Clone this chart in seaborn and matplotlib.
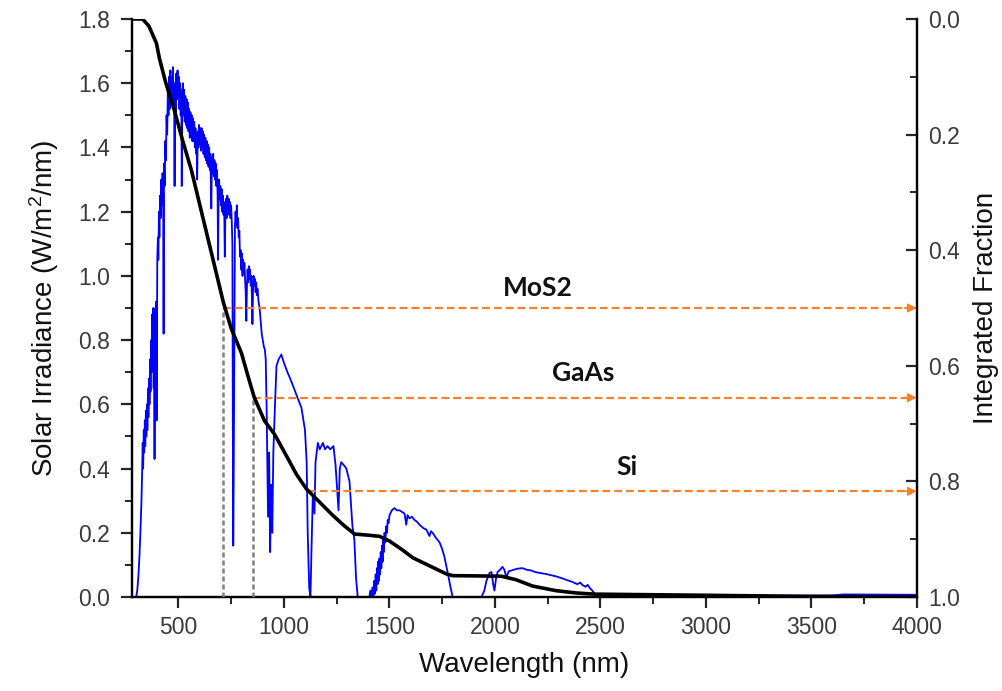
import matplotlib
matplotlib.use("Agg")
import matplotlib.pyplot as plt
import pandas as pd
import seaborn as sns
from matplotlib.ticker import MultipleLocator, FormatStrFormatter

# ---------------- data ----------------
wavelength_nm = [
    300, 305, 310, 315, 320, 325, 328, 331, 333, 336,
    338, 341, 343, 346, 348, 351, 353, 356, 358, 361,
    363, 366, 368, 371, 373, 376, 378, 381, 383, 385,
    387, 389, 391, 393, 395, 397, 400, 403, 405, 408,
    410, 413, 416, 419, 422, 425, 428, 430, 432, 435,
    438, 441, 444, 447, 450, 453, 456, 459, 462, 465,
    468, 471, 474, 477, 480, 482, 484, 487, 490, 493,
    496, 499, 502, 505, 508, 511, 514, 516, 518, 521,
    524, 527, 530, 533, 536, 539, 542, 545, 548, 551,
    554, 557, 560, 563, 566, 569, 572, 575, 578, 581,
    584, 587, 589, 592, 595, 598, 601, 604, 607, 610,
    613, 616, 619, 622, 625, 628, 631, 634, 637, 640,
    643, 646, 649, 652, 656, 659, 662, 665, 668, 671,
    674, 677, 680, 683, 686, 688, 690, 693, 696, 699,
    702, 705, 708, 711, 714, 717, 720, 723, 726, 729,
    732, 735, 738, 741, 744, 747, 750, 753, 756, 758,
    760, 762, 764, 766, 768, 771, 774, 777, 780, 783,
    786, 789, 792, 795, 798, 801, 804, 807, 810, 813,
    816, 819, 822, 825, 828, 831, 834, 837, 840, 843,
    846, 849, 851, 854, 857, 860, 863, 866, 869, 872,
    875, 880, 885, 890, 895, 900, 905, 910, 914, 918,
    925, 930, 935, 940, 945, 950, 958, 965, 975, 988,
    1000, 1017, 1030, 1045, 1065, 1083, 1100, 1108, 1113, 1120,
    1126, 1131, 1137, 1145, 1150, 1161, 1170, 1185, 1195, 1207,
    1220, 1235, 1245, 1259, 1265, 1272, 1285, 1296, 1311, 1318,
    1325, 1334, 1342, 1350, 1405, 1410, 1415, 1420, 1424, 1428,
    1432, 1435, 1438, 1441, 1444, 1447, 1450, 1453, 1456, 1459,
    1462, 1465, 1468, 1471, 1474, 1477, 1481, 1485, 1489, 1492,
    1496, 1501, 1512, 1524, 1535, 1548, 1560, 1572, 1580, 1586,
    1595, 1607, 1619, 1630, 1643, 1660, 1675, 1690, 1697, 1705,
    1720, 1738, 1750, 1761, 1777, 1790, 1800, 1937, 1950, 1960,
    1975, 1984, 1992, 1998, 2006, 2013, 2025, 2036, 2045, 2055,
    2065, 2085, 2105, 2131, 2150, 2170, 2190, 2212, 2240, 2265,
    2292, 2320, 2345, 2368, 2390, 2405, 2416, 2430, 2440, 2450,
    2462, 2473, 2490, 2900, 2920, 3270, 3300, 3600, 3650, 4000,
]
irradiance = [
    0.0, 0.02, 0.06, 0.12, 0.20, 0.30, 0.38, 0.48, 0.40, 0.52,
    0.45, 0.55, 0.47, 0.58, 0.50, 0.60, 0.52, 0.65, 0.56, 0.68,
    0.60, 0.74, 0.64, 0.80, 0.70, 0.88, 0.74, 0.90, 0.65, 0.86,
    0.43, 0.82, 0.90, 0.60, 0.92, 0.55, 1.05, 1.12, 1.05, 1.20,
    1.12, 1.25, 1.18, 1.30, 1.22, 1.32, 1.25, 0.82, 1.35, 1.28,
    1.42, 1.36, 1.50, 1.44, 1.58, 1.50, 1.62, 1.52, 1.64, 1.55,
    1.62, 1.54, 1.65, 1.56, 1.60, 1.28, 1.58, 1.50, 1.63, 1.55,
    1.64, 1.56, 1.62, 1.52, 1.60, 1.50, 1.58, 1.28, 1.52, 1.60,
    1.50, 1.58, 1.48, 1.56, 1.47, 1.55, 1.46, 1.54, 1.45, 1.52,
    1.43, 1.51, 1.44, 1.50, 1.42, 1.49, 1.42, 1.48, 1.40, 1.46,
    1.38, 1.44, 1.30, 1.45, 1.40, 1.47, 1.41, 1.46, 1.39, 1.46,
    1.40, 1.45, 1.38, 1.44, 1.37, 1.43, 1.36, 1.42, 1.35, 1.41,
    1.34, 1.40, 1.33, 1.38, 1.21, 1.37, 1.32, 1.38, 1.31, 1.36,
    1.30, 1.35, 1.28, 1.33, 1.25, 1.05, 1.20, 1.30, 1.24, 1.28,
    1.22, 1.27, 1.20, 1.25, 1.19, 1.23, 1.06, 1.20, 1.24, 1.18,
    1.25, 1.20, 1.24, 1.19, 1.23, 1.18, 1.22, 1.17, 1.10, 0.55,
    0.16, 0.35, 0.60, 0.90, 1.15, 1.20, 1.16, 1.22, 1.15, 1.18,
    1.12, 1.14, 1.06, 1.08, 1.02, 1.07, 1.00, 1.05, 1.01, 1.04,
    0.99, 0.95, 0.86, 0.97, 1.02, 0.98, 1.03, 0.99, 1.02, 0.97,
    1.00, 0.92, 0.85, 0.96, 1.00, 0.97, 0.99, 0.95, 0.98, 0.94,
    0.96, 0.92, 0.90, 0.86, 0.82, 0.80, 0.78, 0.77, 0.74, 0.60,
    0.25, 0.45, 0.14, 0.35, 0.20, 0.45, 0.60, 0.72, 0.74, 0.755,
    0.73, 0.70, 0.68, 0.655, 0.62, 0.59, 0.52, 0.42, 0.20, 0.03,
    0.0, 0.15, 0.31, 0.26, 0.42, 0.48, 0.46, 0.48, 0.46, 0.47,
    0.46, 0.47, 0.41, 0.27, 0.40, 0.42, 0.41, 0.40, 0.36, 0.29,
    0.22, 0.18, 0.06, 0.0, 0.0, 0.02, 0.0, 0.03, 0.0, 0.05,
    0.01, 0.07, 0.02, 0.09, 0.04, 0.11, 0.05, 0.12, 0.07, 0.14,
    0.09, 0.16, 0.11, 0.18, 0.14, 0.20, 0.17, 0.22, 0.20, 0.24,
    0.23, 0.255, 0.27, 0.277, 0.27, 0.27, 0.265, 0.26, 0.225, 0.255,
    0.245, 0.25, 0.24, 0.235, 0.225, 0.215, 0.21, 0.19, 0.205, 0.20,
    0.185, 0.17, 0.15, 0.125, 0.074, 0.03, 0.0, 0.0, 0.02, 0.05,
    0.075, 0.078, 0.04, 0.02, 0.06, 0.078, 0.085, 0.094, 0.085, 0.06,
    0.08, 0.084, 0.088, 0.09, 0.085, 0.083, 0.078, 0.075, 0.072, 0.068,
    0.064, 0.058, 0.052, 0.047, 0.040, 0.045, 0.037, 0.032, 0.038, 0.028,
    0.02, 0.01, 0.002, 0.002, 0.006, 0.006, 0.004, 0.005, 0.008, 0.007,
]

frac_wavelength = [
    280, 330, 360, 396, 410, 440, 481, 520, 562, 623, 670, 713, 750, 799, 830, 860, 908, 955,
    1017, 1060, 1107, 1178, 1230, 1287, 1335, 1400, 1453, 1500, 1560, 1611, 1690, 1770, 1800,
    2030, 2100, 2178, 2290, 2387, 2470, 3000, 3500, 4000,
]
integrated_fraction = [
    0.0, 0.0, 0.012, 0.042, 0.068, 0.11, 0.158, 0.21, 0.262, 0.354, 0.425, 0.49, 0.535, 0.578, 0.618, 0.655, 0.695, 0.718,
    0.759, 0.788, 0.813, 0.839, 0.858, 0.877, 0.891, 0.893, 0.895, 0.903, 0.918, 0.932, 0.946, 0.960, 0.963,
    0.964, 0.970, 0.981, 0.989, 0.993, 0.995, 0.997, 0.999, 1.0,
]

materials = ["MoS2", "GaAs", "Si"]
cutoff_nm = [710, 855, 1115]
cutoff_fraction = [0.50, 0.655, 0.817]
show_vline = [True, True, False]
label_wavelength = [2205, 2420, 2628]
label_fraction = [0.466, 0.613, 0.775]

x_ticks = [500, 1000, 1500, 2000, 2500, 3000, 3500, 4000]

# ---------------- style ----------------
sns.set_style("ticks")
plt.rcParams["font.family"] = ["Liberation Sans", "DejaVu Sans"]
plt.rcParams["mathtext.default"] = "regular"

ORANGE = "#f5822a"
BLUE = "#0000ff"
TICKCOL = "#3a3a3a"

fig, ax = plt.subplots(figsize=(10.02, 6.91), dpi=100)
fig.subplots_adjust(left=0.1317, right=0.915, bottom=0.136, top=0.9725)

spec = pd.DataFrame({"Wavelength": wavelength_nm, "Irradiance": irradiance})
sns.lineplot(data=spec, x="Wavelength", y="Irradiance", ax=ax, color=BLUE,
             linewidth=1.3, estimator=None, sort=False, zorder=2)

ax2 = ax.twinx()
frac = pd.DataFrame({"Wavelength": frac_wavelength, "Fraction": integrated_fraction})

# cut-off markers
for name, c, f, vl, lw_, lf in zip(materials, cutoff_nm, cutoff_fraction, show_vline,
                                   label_wavelength, label_fraction):
    if vl:
        ax2.plot([c, c], [1.0, f], color="#808080", linewidth=1.8,
                 linestyle=(0, (2.0, 1.2)), zorder=3)
    ax2.plot([c, x_ticks[-1] - 25], [f, f], color=ORANGE, linewidth=1.6,
             linestyle=(0, (3.5, 1.8)), zorder=3)
    ax2.annotate("", xy=(x_ticks[-1], f), xytext=(x_ticks[-1] - 60, f),
                 arrowprops=dict(arrowstyle="-|>", color=ORANGE, lw=1.2,
                                 mutation_scale=13, shrinkA=0, shrinkB=0),
                 zorder=4)
    ax2.text(lw_, lf, name, ha="center", va="center", fontsize=19,
             fontweight="bold", color="#111111", family=["Lato", "DejaVu Sans"])

sns.lineplot(data=frac, x="Wavelength", y="Fraction", ax=ax2, color="black",
             linewidth=2.6, estimator=None, sort=False, zorder=5)

# ---------------- axes ----------------
ax.set_xlim(280, 4000)
ax.set_ylim(0, 1.8)
ax2.set_ylim(1.0, 0.0)

ax.set_xticks(x_ticks)
ax.xaxis.set_minor_locator(MultipleLocator(250))
ax.yaxis.set_major_locator(MultipleLocator(0.2))
ax.yaxis.set_minor_locator(MultipleLocator(0.1))
ax.yaxis.set_major_formatter(FormatStrFormatter("%.1f"))
ax2.yaxis.set_major_locator(MultipleLocator(0.2))
ax2.yaxis.set_minor_locator(MultipleLocator(0.1))
ax2.yaxis.set_major_formatter(FormatStrFormatter("%.1f"))

for a in (ax, ax2):
    a.spines["top"].set_visible(False)
    for s in ("left", "right", "bottom"):
        a.spines[s].set_linewidth(1.6)
        a.spines[s].set_color("black")

ax.tick_params(which="major", direction="out", length=8, width=1.6,
               labelsize=16.5, labelcolor=TICKCOL, pad=6)
ax.tick_params(which="minor", direction="out", length=5, width=1.4)
ax.tick_params(axis="y", which="major", pad=8)
ax2.tick_params(which="major", direction="in", length=8, width=1.6,
                labelsize=16.5, labelcolor=TICKCOL, pad=8)
ax2.tick_params(which="minor", direction="in", length=5, width=1.4)

ax.set_xlabel("Wavelength (nm)", fontsize=20, color="#111111")
ax.set_ylabel("Solar Irradiance (W/m$^2$/nm)", fontsize=20, color="#111111")
ax2.set_ylabel("Integrated Fraction", fontsize=20, color="#111111")
ax.xaxis.set_label_coords(0.5, -0.095)
ax.yaxis.set_label_coords(-0.090, 0.5)
ax2.yaxis.set_label_coords(1.072, 0.5)

fig.savefig("out.png", dpi=100)
